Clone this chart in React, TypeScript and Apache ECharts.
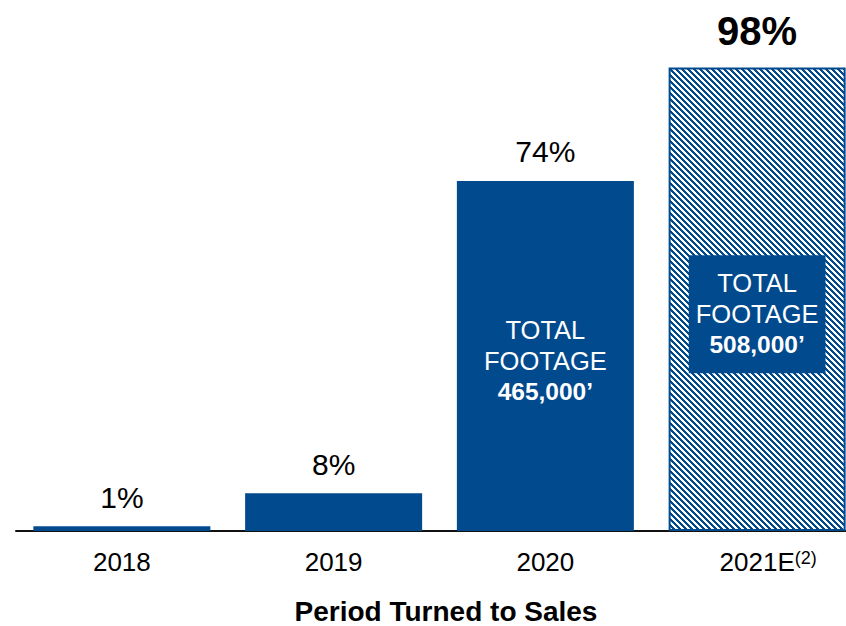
import React, { useEffect, useRef } from 'react';
import * as echarts from 'echarts';

const categories = ['2018', '2019', '2020', '2021E'];
const shares = [1, 8, 74, 98];
const shareLabels = ['1%', '8%', '74%', '98%'];
const footage = ['', '', '465,000\u2019', '508,000\u2019'];
const footnotes = ['', '', '', '(2)'];
const xTitle = 'Period Turned to Sales';

const BLUE = '#024A8E';
const FONT = '"Liberation Sans", Arial, sans-serif';

function makeHatch(): HTMLCanvasElement {
  const c = document.createElement('canvas');
  const s = 6;
  c.width = s;
  c.height = s;
  const ctx = c.getContext('2d')!;
  ctx.fillStyle = '#ffffff';
  ctx.fillRect(0, 0, s, s);
  ctx.fillStyle = BLUE;
  for (let y = 0; y < s; y++) {
    for (let x = 0; x < s; x++) {
      if ((((x - y) % s) + s) % s < 3) ctx.fillRect(x, y, 1, 1);
    }
  }
  return c;
}

export default function App() {
  const ref = useRef<HTMLDivElement>(null);
  useEffect(() => {
    if (!ref.current) return;
    const chart = echarts.init(ref.current, undefined, { renderer: 'svg' });
    const hatch = makeHatch();
    const insideRich = {
      n: { fontSize: 25.5, color: '#fff', fontFamily: FONT, lineHeight: 31 },
      b: { fontSize: 24.5, color: '#fff', fontWeight: 'bold', fontFamily: FONT, lineHeight: 31 },
    };
    chart.setOption({
      animation: false,
      grid: {
        left: 16,
        width: 847,
        top: 58,
        bottom: 95,
        containLabel: false,
        outerBoundsMode: 'none',
      },
      xAxis: {
        type: 'category',
        data: categories,
        axisTick: { show: false },
        axisLine: { lineStyle: { color: '#111', width: 2 } },
        axisLabel: {
          interval: 0,
          margin: 18,
          color: '#000',
          fontSize: 26,
          fontFamily: FONT,
          formatter: (v: string) => {
            const i = categories.indexOf(v);
            return footnotes[i] ? `{a|${v}}{s|${footnotes[i]}}` : `{p|${v}}`;
          },
          rich: {
            p: { fontSize: 26, fontFamily: FONT, color: '#000' },
            a: { fontSize: 26, fontFamily: FONT, color: '#000', padding: [0, 0, 0, 22] },
            s: { fontSize: 18, fontFamily: FONT, color: '#000', verticalAlign: 'top' },
          },
        },
      },
      yAxis: { type: 'value', min: 0, max: 100, show: false, splitLine: { show: false } },
      graphic: [
        {
          type: 'text',
          x: 446,
          y: 611,
          style: {
            text: xTitle,
            fontSize: 28,
            fontWeight: 'bold',
            fontFamily: FONT,
            fill: '#000',
            align: 'center',
            verticalAlign: 'middle',
          },
        },
      ],
      series: [
        {
          type: 'bar',
          barWidth: 177,
          itemStyle: { color: BLUE },
          label: {
            show: true,
            position: 'top',
            distance: 14,
            color: '#000',
            fontSize: 30,
            fontFamily: FONT,
            formatter: (p: any) => shareLabels[p.dataIndex],
          },
          data: shares.map((v, i) =>
            i === 3
              ? {
                  value: v,
                  itemStyle: {
                    color: { image: hatch, repeat: 'repeat' },
                    borderColor: BLUE,
                    borderWidth: 2,
                  },
                  label: { fontSize: 40, fontWeight: 'bold', distance: 16 },
                }
              : v
          ),
        },
        {
          type: 'bar',
          barWidth: 177,
          barGap: '-100%',
          silent: true,
          z: 3,
          itemStyle: { color: 'rgba(0,0,0,0)' },
          data: shares.map((v, i) =>
            footage[i]
              ? {
                  value: v,
                  label: {
                    show: true,
                    position: 'inside',
                    align: 'center',
                    formatter: `{n|TOTAL}\n{n|FOOTAGE}\n{b|${footage[i]}}`,
                    rich: insideRich,
                    ...(i === 3
                      ? { backgroundColor: BLUE, padding: [12, 7, 13, 7], offset: [0, 15] }
                      : { offset: [0, 5] }),
                  },
                }
              : '-'
          ),
        },
      ],
    });
    return () => chart.dispose();
  }, []);
  return (
    <div
      ref={ref}
      style={{ position: 'fixed', left: 0, top: 0, width: 846, height: 626, background: '#fff' }}
    />
  );
}
